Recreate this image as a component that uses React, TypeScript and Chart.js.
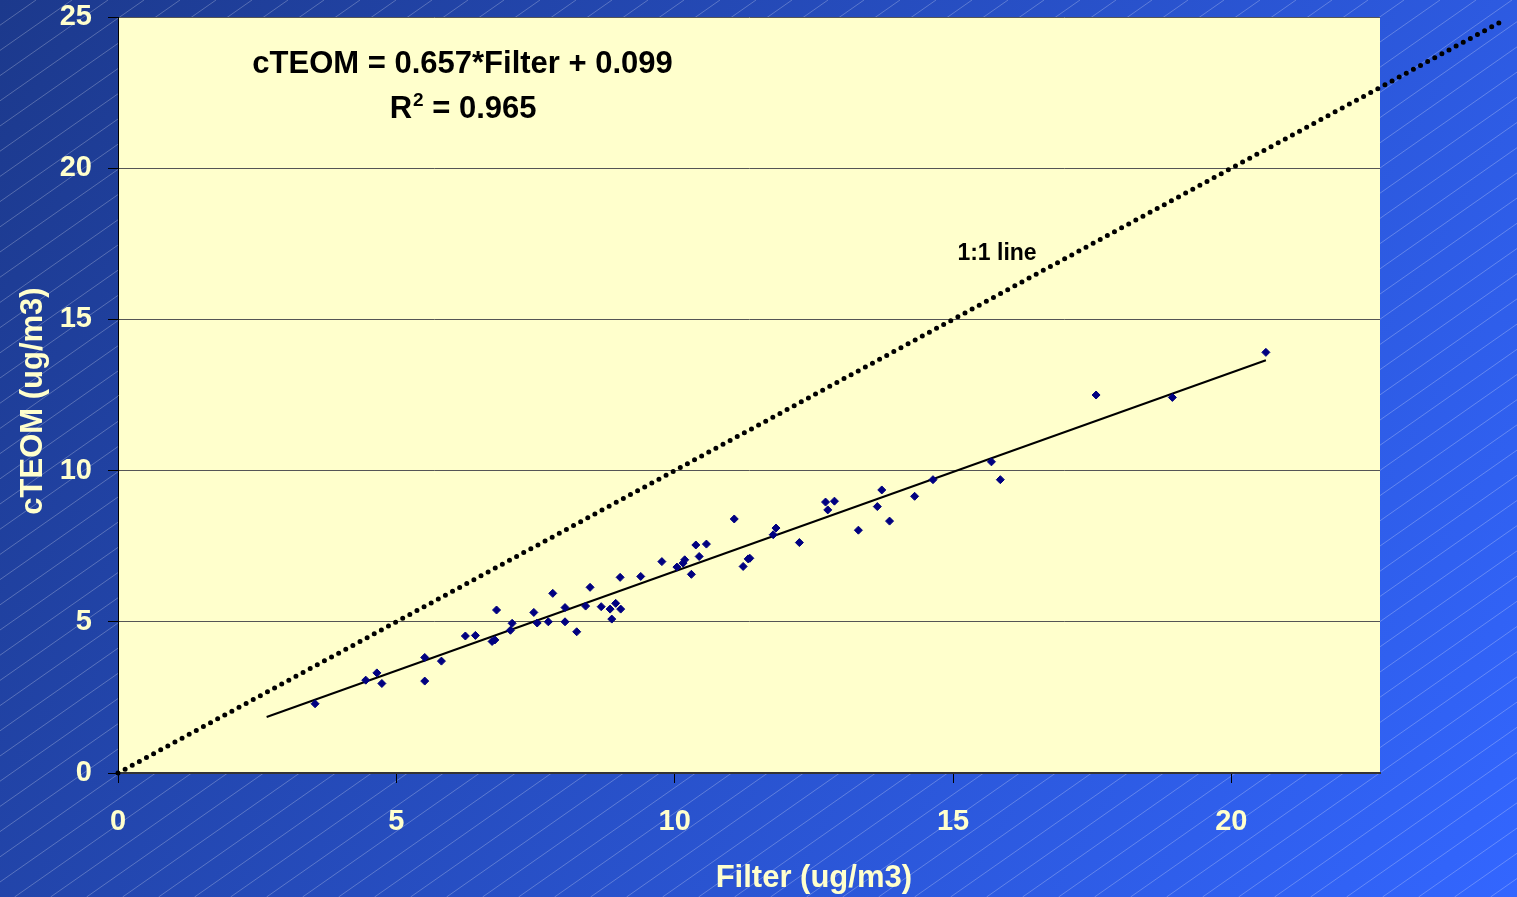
import React, { useEffect, useRef } from "react";
import { Chart, registerables } from "chart.js";

Chart.register(...registerables);

// Measured pairs (Filter, cTEOM) in ug/m3
const filterX = [
  3.54, 4.45, 4.65, 4.74, 5.51, 5.51, 5.81, 6.24, 6.42, 6.72,
  6.77, 6.8, 7.05, 7.08, 7.47, 7.53, 7.73, 7.81, 8.03, 8.03,
  8.24, 8.4, 8.48, 8.68, 8.84, 8.87, 8.94, 9.02, 9.03, 9.39,
  9.77, 10.04, 10.15, 10.18, 10.3, 10.38, 10.44, 10.57, 11.07, 11.23,
  11.32, 11.35, 11.77, 11.82, 12.24, 12.71, 12.75, 12.87, 13.3, 13.64,
  13.72, 13.86, 14.31, 14.64, 15.69, 15.85, 17.57, 18.94, 20.62,
];
const cteomY = [
  2.29, 3.07, 3.31, 2.96, 3.82, 3.04, 3.7, 4.53, 4.55, 4.35,
  4.4, 5.39, 4.72, 4.95, 5.31, 4.96, 5.0, 5.94, 5.47, 5.0,
  4.67, 5.52, 6.14, 5.5, 5.42, 5.09, 5.61, 6.47, 5.42, 6.5,
  6.99, 6.81, 6.94, 7.05, 6.57, 7.54, 7.16, 7.57, 8.4, 6.83,
  7.08, 7.1, 7.88, 8.1, 7.62, 8.96, 8.7, 8.99, 8.03, 8.81,
  9.36, 8.33, 9.15, 9.7, 10.29, 9.7, 12.5, 12.42, 13.91,
];

// Trend line endpoints (as drawn) and the 1:1 reference line
const trendX = [2.67, 20.62];
const trendY = [1.85, 13.65];
const oneToOneX = [0, 24.9];
const oneToOneY = [0, 24.9];

const xTicks = [0, 5, 10, 15, 20];
const yTicks = [0, 5, 10, 15, 20, 25];
const xMin = 0;
const xMax = 22.67;
const yMin = 0;
const yMax = 25;

const xTitle = "Filter (ug/m3)";
const yTitle = "cTEOM (ug/m3)";
const equationText = "cTEOM = 0.657*Filter + 0.099";
const r2Label = "R";
const r2Sup = "2";
const r2Value = " = 0.965";
const oneToOneLabel = "1:1 line";

const FONT = 'Arial, "Liberation Sans", sans-serif';
const TEXT_LIGHT = "#FFFFCC";

const toPts = (xs: number[], ys: number[]) => xs.map((x, i) => ({ x, y: ys[i] }));

const bgPlugin = {
  id: "bgPlugin",
  beforeDraw(chart: any) {
    const { ctx, width, height, chartArea } = chart;
    ctx.save();
    const g = ctx.createLinearGradient(0, 0, width, height);
    g.addColorStop(0, "#1C398C");
    g.addColorStop(1, "#3366FF");
    ctx.fillStyle = g;
    ctx.fillRect(0, 0, width, height);
    // diagonal hatching
    ctx.strokeStyle = "rgba(255,255,255,0.25)";
    ctx.lineWidth = 1;
    const slope = 0.7;
    const step = 36;
    ctx.beginPath();
    for (let x0 = -height / slope; x0 < width + step; x0 += step) {
      ctx.moveTo(x0, height);
      ctx.lineTo(x0 + height / slope, 0);
    }
    ctx.stroke();
    ctx.fillStyle = "#FFFFCC";
    ctx.fillRect(
      chartArea.left,
      chartArea.top,
      chartArea.right - chartArea.left,
      chartArea.bottom - chartArea.top
    );
    ctx.restore();
  },
};

const textPlugin = {
  id: "textPlugin",
  afterDraw(chart: any) {
    const { ctx, scales, chartArea } = chart;
    const xs = scales.x;
    const ys = scales.y;
    ctx.save();
    ctx.fillStyle = "#000";
    ctx.textBaseline = "alphabetic";

    // Equation
    ctx.font = `bold 31px ${FONT}`;
    ctx.textAlign = "center";
    ctx.fillText(equationText, xs.getPixelForValue(6.19), ys.getPixelForValue(23.14));

    // R^2 line
    const cx = xs.getPixelForValue(6.19);
    const by = ys.getPixelForValue(21.65);
    ctx.textAlign = "left";
    ctx.font = `bold 31px ${FONT}`;
    const wR = ctx.measureText(r2Label).width;
    const wV = ctx.measureText(r2Value).width;
    ctx.font = `bold 19px ${FONT}`;
    const wS = ctx.measureText(r2Sup).width;
    let sx = cx - (wR + wS + wV) / 2;
    ctx.font = `bold 31px ${FONT}`;
    ctx.fillText(r2Label, sx, by);
    sx += wR + 1;
    ctx.font = `bold 19px ${FONT}`;
    ctx.fillText(r2Sup, sx, by - 12);
    sx += wS;
    ctx.font = `bold 31px ${FONT}`;
    ctx.fillText(r2Value, sx, by);

    // 1:1 line label
    ctx.font = `bold 23px ${FONT}`;
    ctx.textAlign = "center";
    ctx.fillText(oneToOneLabel, xs.getPixelForValue(15.79), ys.getPixelForValue(16.97));

    // Axis titles
    ctx.fillStyle = TEXT_LIGHT;
    ctx.font = `bold 31px ${FONT}`;
    ctx.textAlign = "center";
    ctx.fillText(xTitle, xs.getPixelForValue(12.5), chartArea.bottom + 114);

    ctx.translate(chartArea.left - 76, (chartArea.top + chartArea.bottom) / 2 + 6);
    ctx.rotate(-Math.PI / 2);
    ctx.fillText(yTitle, 0, 0);
    ctx.restore();
  },
};

export default function App() {
  const canvasRef = useRef<HTMLCanvasElement | null>(null);

  useEffect(() => {
    if (!canvasRef.current) return;
    const tickFont = { family: FONT, size: 29, weight: "bold" as const, lineHeight: 1 };
    const chart = new Chart(canvasRef.current, {
      type: "scatter",
      data: {
        datasets: [
          {
            label: "1:1 line",
            data: toPts(oneToOneX, oneToOneY),
            showLine: true,
            borderColor: "#000",
            borderWidth: 5,
            borderDash: [0, 8.1],
            borderCapStyle: "round",
            pointRadius: 0,
            clip: false,
            order: 3,
          } as any,
          {
            label: "Trend",
            data: toPts(trendX, trendY),
            showLine: true,
            borderColor: "#000",
            borderWidth: 2,
            pointRadius: 0,
            order: 2,
          } as any,
          {
            label: "cTEOM vs Filter",
            data: toPts(filterX, cteomY),
            pointStyle: "rectRot",
            pointRadius: 4,
            backgroundColor: "#000080",
            borderColor: "#000080",
            borderWidth: 1,
            order: 1,
          } as any,
        ],
      },
      options: {
        animation: false,
        responsive: true,
        maintainAspectRatio: false,
        layout: { padding: { top: 17, right: 137, left: 0, bottom: 0 } },
        plugins: {
          legend: { display: false },
          tooltip: { enabled: false },
          title: { display: false },
        },
        scales: {
          x: {
            type: "linear",
            min: xMin,
            max: xMax,
            afterFit(s: any) {
              s.height = 124;
              s.paddingLeft = 0;
              s.paddingRight = 0;
            },
            afterBuildTicks(s: any) {
              s.ticks = xTicks.map((v) => ({ value: v }));
            },
            grid: {
              drawOnChartArea: false,
              drawTicks: true,
              tickLength: 10,
              tickColor: "#000",
              tickWidth: 1,
            },
            border: { display: true, color: "#333", width: 2 },
            ticks: {
              color: TEXT_LIGHT,
              font: tickFont,
              padding: 24,
              maxRotation: 0,
              autoSkip: false,
              includeBounds: false,
            },
          },
          y: {
            type: "linear",
            min: yMin,
            max: yMax,
            afterFit(s: any) {
              s.width = 118;
              s.paddingTop = 0;
              s.paddingBottom = 0;
            },
            afterBuildTicks(s: any) {
              s.ticks = yTicks.map((v) => ({ value: v }));
            },
            grid: {
              color: "#555",
              lineWidth: 1,
              drawTicks: true,
              tickLength: 10,
              tickColor: "#000",
            },
            border: { display: true, color: "#000", width: 1 },
            ticks: {
              color: TEXT_LIGHT,
              font: tickFont,
              padding: 16,
              autoSkip: false,
              includeBounds: false,
            },
          },
        },
      } as any,
      plugins: [bgPlugin, textPlugin],
    });
    return () => chart.destroy();
  }, []);

  return (
    <div style={{ position: "absolute", left: 0, top: 0, width: 1517, height: 897 }}>
      <canvas ref={canvasRef} />
    </div>
  );
}
